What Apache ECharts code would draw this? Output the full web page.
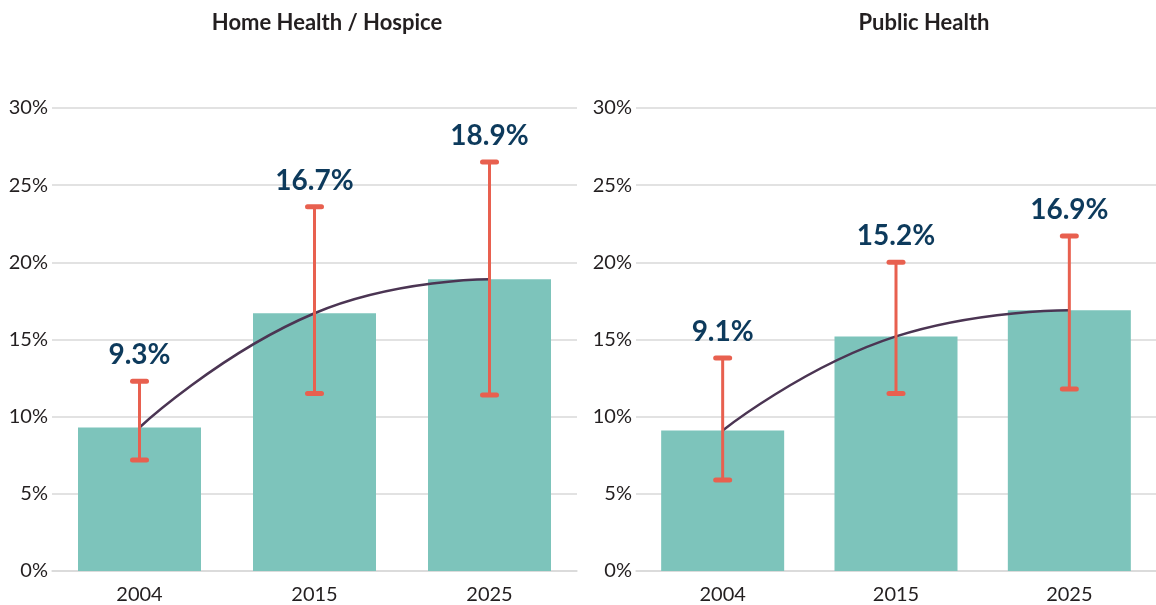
<!DOCTYPE html>
<html>
<head>
<meta charset="utf-8">
<script src="https://cdn.jsdelivr.net/npm/echarts@6/dist/echarts.min.js"></script>
<style>
  html, body { margin: 0; padding: 0; background: #fff; }
  #main { width: 1156px; height: 605px; }
</style>
</head>
<body>
<div id="main"></div>
<script>
// categories
var years = ['2004', '2015', '2025'];

// Home Health / Hospice
var homeValues = [9.3, 16.7, 18.9];
var homeLow = [7.2, 11.5, 11.4];
var homeHigh = [12.3, 23.6, 26.5];

// Public Health
var publicValues = [9.1, 15.2, 16.9];
var publicLow = [5.9, 11.5, 11.8];
var publicHigh = [13.8, 20.0, 21.7];

var panelTitles = ['Home Health / Hospice', 'Public Health'];

var chart = echarts.init(document.getElementById('main'));

var barColor = '#7dc4bb';
var errColor = '#e8604f';
var curveColor = '#4b3553';
var labelColor = '#0d3a5c';
var textColor = '#231f20';
var lineGray = '#d9d9d9';
var fontFam = 'Lato, "Open Sans", sans-serif';

// error bar + value label drawn with a custom series
function errorItem(values) {
  return function (params, api) {
    var x = api.value(0);
    var low = api.coord([x, api.value(1)]);
    var high = api.coord([x, api.value(2)]);
    var half = 7;
    var st = { stroke: errColor, lineWidth: 3, lineCap: 'round' };
    var capSt = { stroke: errColor, lineWidth: 5, lineCap: 'round' };
    return {
      type: 'group',
      children: [
        { type: 'line', shape: { x1: high[0], y1: high[1], x2: low[0], y2: low[1] }, style: st },
        { type: 'line', shape: { x1: high[0] - half, y1: high[1], x2: high[0] + half, y2: high[1] }, style: capSt },
        { type: 'line', shape: { x1: low[0] - half, y1: low[1], x2: low[0] + half, y2: low[1] }, style: capSt },
        {
          type: 'text',
          x: high[0],
          y: high[1] - 12,
          style: {
            text: values[params.dataIndex].toFixed(1) + '%',
            fill: labelColor,
            font: 'bold 28px ' + fontFam,
            align: 'center',
            verticalAlign: 'bottom'
          }
        }
      ]
    };
  };
}

function errData(low, high) {
  return years.map(function (y, i) { return [i, low[i], high[i]]; });
}

var grids = [
  { left: 52, top: 108, width: 525, bottom: 34 },
  { left: 636, top: 108, width: 525, bottom: 34 }
];

var xAxes = [0, 1].map(function (i) {
  return {
    type: 'category',
    gridIndex: i,
    data: years,
    axisTick: { show: false },
    axisLine: { lineStyle: { color: lineGray, width: 1.5 } },
    axisLabel: { color: textColor, fontSize: 20, fontFamily: fontFam, margin: 14 }
  };
});

var yAxes = [0, 1].map(function (i) {
  return {
    type: 'value',
    gridIndex: i,
    min: 0,
    max: 30,
    interval: 5,
    axisLine: { show: false },
    axisTick: { show: false },
    splitLine: { lineStyle: { color: lineGray, width: 1.5 } },
    axisLabel: { color: textColor, fontSize: 20, fontFamily: fontFam, margin: 4, formatter: '{value}%' }
  };
});

var panels = [
  { values: homeValues, low: homeLow, high: homeHigh },
  { values: publicValues, low: publicLow, high: publicHigh }
];

var series = [];
panels.forEach(function (p, i) {
  series.push({
    type: 'bar',
    xAxisIndex: i,
    yAxisIndex: i,
    data: p.values,
    barWidth: 123,
    itemStyle: { color: barColor },
    z: 1
  });
  series.push({
    type: 'line',
    xAxisIndex: i,
    yAxisIndex: i,
    data: p.values,
    smooth: 0.5,
    symbol: 'none',
    lineStyle: { color: curveColor, width: 2.5 },
    z: 3
  });
  series.push({
    type: 'custom',
    xAxisIndex: i,
    yAxisIndex: i,
    data: errData(p.low, p.high),
    renderItem: errorItem(p.values),
    z: 4
  });
});

chart.setOption({
  animation: false,
  title: [
    { text: panelTitles[0], left: 322, top: 7, textAlign: 'center',
      textStyle: { fontSize: 22, fontWeight: 'bold', color: textColor, fontFamily: fontFam } },
    { text: panelTitles[1], left: 919, top: 7, textAlign: 'center',
      textStyle: { fontSize: 22, fontWeight: 'bold', color: textColor, fontFamily: fontFam } }
  ],
  grid: grids,
  xAxis: xAxes,
  yAxis: yAxes,
  series: series
});
</script>
</body>
</html>
